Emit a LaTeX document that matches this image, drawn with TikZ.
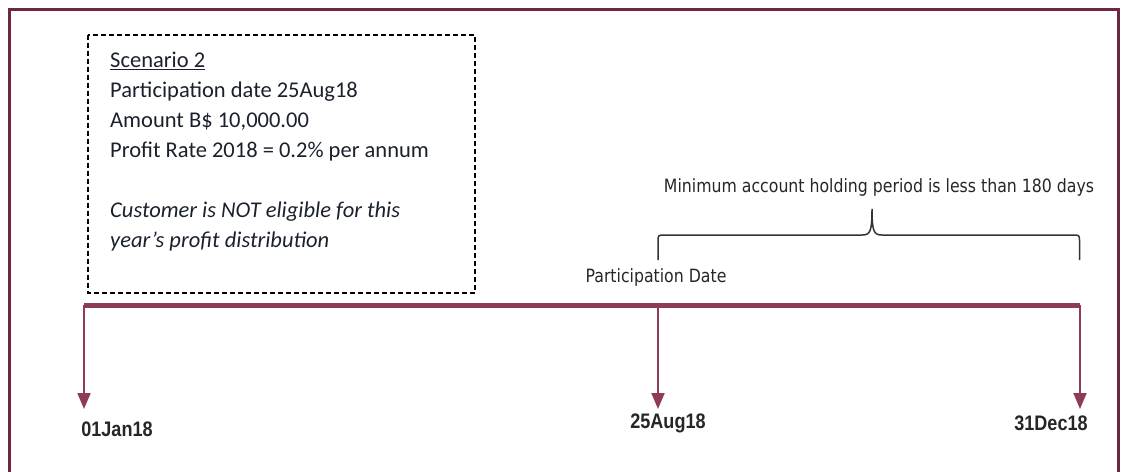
\documentclass[tikz,border=0pt]{standalone}
\usepackage{fontspec}
\setmainfont{Carlito}
\newfontfamily\narrowfont[FakeStretch=0.86]{Liberation Sans}
\newfontfamily\condfont[FakeStretch=0.86]{DejaVu Sans}
\usetikzlibrary{arrows.meta}
\definecolor{framec}{HTML}{6D2745}
\definecolor{linec}{HTML}{8E3A59}
\definecolor{boxtext}{HTML}{1A212D}
\definecolor{labtext}{HTML}{262626}
\tikzset{
  frame/.style={draw=framec, line width=3.5pt},
  dashbox/.style={draw=black, line width=2pt, dash pattern=on 5pt off 3pt},
  timeline/.style={draw=linec, line width=5pt},
  tick/.style={draw=linec, line width=2pt, -{Triangle[width=13pt,length=16pt]}},
  datelab/.style={text=labtext, inner sep=0pt, font=\narrowfont\bfseries\fontsize{21}{24}\selectfont},
  notelab/.style={text=labtext, inner sep=0pt, font=\condfont\fontsize{18.3}{22}\selectfont},
  bracec/.style={draw=black!80, line width=1.5pt},
}
\begin{document}
\begin{tikzpicture}[x=1pt,y=-1pt]
\useasboundingbox (0,0) rectangle (1121,471);
% outer frame
\draw[frame] (9.5,480) -- (9.5,9.5) -- (1118.5,9.5) -- (1118.5,480);
% dashed scenario box
\draw[dashbox] (88,35) rectangle (475,293);
\node[anchor=north west, inner sep=0pt, align=left, text=boxtext,
      font=\fontsize{22.5}{30}\selectfont] (info) at (110,52)
  {\underline{Scenario 2}\\
   Participation date 25Aug18\\
   Amount B\$ 10,000.00\\
   Profit Rate 2018 = 0.2\% per annum\\[30pt]
   \textit{Customer is NOT eligible for this}\\
   \textit{year’s profit distribution}};
% brace
\coordinate (bl) at (658,260);
\coordinate (br) at (1079.5,260);
\coordinate (bt) at (872,209);
\draw[bracec] (bl) -- (658,242) .. controls (658,235) .. (665,235) -- (862,235)
  .. controls (870,235) and (872,232) .. (bt)
  .. controls (872,232) and (874,235) .. (882,235) -- (1072.5,235)
  .. controls (1079.5,235) .. (1079.5,242) -- (br);
\node[notelab] (mintext) at (879,187) {Minimum account holding period is less than 180 days};
\node[notelab] (pdate) at (656,277) {Participation Date};
% timeline
\coordinate (tA) at (84,305);
\coordinate (tB) at (658,305);
\coordinate (tC) at (1080,305);
\draw[timeline] (tA) -- (tC);
\coordinate (aA) at (84,409);
\coordinate (aB) at (658,409);
\coordinate (aC) at (1080,409);
\draw[tick] (tA) -- (aA);
\draw[tick] (tB) -- (aB);
\draw[tick] (tC) -- (aC);
\node[datelab] (d1) at (117,429) {01Jan18};
\node[datelab] (d2) at (668,423) {25Aug18};
\node[datelab] (d3) at (1051,423) {31Dec18};
\end{tikzpicture}
\end{document}
